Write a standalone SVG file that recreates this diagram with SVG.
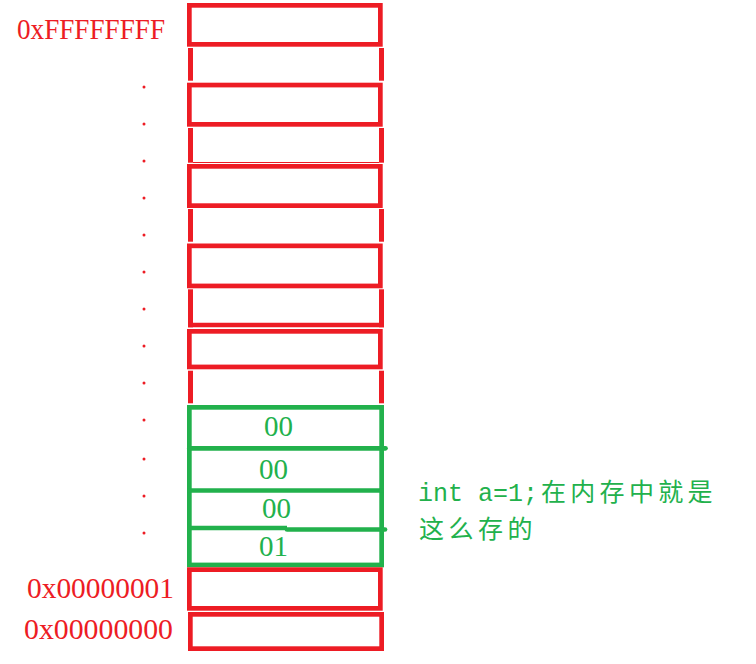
<svg xmlns="http://www.w3.org/2000/svg" width="756" height="664" viewBox="0 0 756 664">
<style>
.r{fill:none;stroke:#ed1c24;stroke-width:4.7}
.ob{stroke:#ed1c24;stroke-width:5}
.g{fill:none;stroke:#22b14c;stroke-width:4.7}
.lbl{font-family:"Liberation Serif","Times New Roman",serif;font-size:29px;fill:#ed1c24}
.val{font-family:"Liberation Serif","Times New Roman",serif;font-size:29px;fill:#22b14c}
.note{fill:#22b14c;font-size:25px}
.dot{fill:#ed1c24}
</style>
<rect width="756" height="664" fill="#ffffff"/>
<g id="labels">
<text class="lbl" x="17" y="39" textLength="148" lengthAdjust="spacingAndGlyphs">0xFFFFFFFF</text>
<text class="lbl" x="27" y="598" textLength="147" lengthAdjust="spacingAndGlyphs">0x00000001</text>
<text class="lbl" x="24" y="639" textLength="149" lengthAdjust="spacingAndGlyphs">0x00000000</text>
</g>
<g id="dots">
<circle class="dot" cx="144" cy="87" r="1.5"/>
<circle class="dot" cx="144" cy="124" r="1.5"/>
<circle class="dot" cx="144" cy="161" r="1.5"/>
<circle class="dot" cx="144" cy="198" r="1.5"/>
<circle class="dot" cx="144" cy="235" r="1.5"/>
<circle class="dot" cx="144" cy="272" r="1.5"/>
<circle class="dot" cx="144" cy="309" r="1.5"/>
<circle class="dot" cx="144" cy="346" r="1.5"/>
<circle class="dot" cx="144" cy="383" r="1.5"/>
<circle class="dot" cx="144" cy="420" r="1.5"/>
<circle class="dot" cx="144" cy="459" r="1.5"/>
<circle class="dot" cx="144" cy="496" r="1.5"/>
<circle class="dot" cx="144" cy="533" r="1.5"/>
</g>
<g id="cell1"><rect class="r" x="189.35" y="5.35" width="191" height="39"/></g>
<g id="cell2"><line class="ob" x1="190.5" y1="48" x2="190.5" y2="80.7"/><line class="ob" x1="381.5" y1="48" x2="381.5" y2="80.7"/></g>
<g id="cell3"><rect class="r" x="189.35" y="85.05" width="191" height="39.3"/></g>
<g id="cell4"><line class="ob" x1="190.5" y1="128" x2="190.5" y2="162.7"/><line class="ob" x1="381.5" y1="128" x2="381.5" y2="162.7"/><line x1="193" y1="162.5" x2="379" y2="162.5" stroke="#ed1c24" stroke-width="1"/></g>
<g id="cell5"><rect class="r" x="189.35" y="166.35" width="191" height="39.3"/></g>
<g id="cell6"><line class="ob" x1="190.5" y1="209" x2="190.5" y2="241.7"/><line class="ob" x1="381.5" y1="209" x2="381.5" y2="241.7"/></g>
<g id="cell7"><rect class="r" x="189.35" y="245.85" width="191" height="40.1"/></g>
<g id="cell8"><line class="ob" x1="190.5" y1="289.3" x2="190.5" y2="327.3"/><line class="ob" x1="381.5" y1="289.3" x2="381.5" y2="327.3"/><line class="ob" x1="188" y1="325" x2="384" y2="325" style="stroke-width:4.7"/></g>
<g id="cell9"><rect class="r" x="189.35" y="331.35" width="191" height="35.6"/></g>
<g id="cell10"><line class="ob" x1="190.5" y1="370.7" x2="190.5" y2="403.3"/><line class="ob" x1="381.5" y1="370.7" x2="381.5" y2="403.3"/></g>
<g id="int-a">
<rect class="g" x="189.35" y="407.35" width="192.3" height="157.6"/>
<line class="g" x1="189.35" y1="448.3" x2="385.5" y2="448.3" stroke-linecap="round"/>
<line class="g" x1="187" y1="490.5" x2="384" y2="490.5"/>
<line class="g" x1="190" y1="528" x2="287" y2="528"/>
<line class="g" x1="287" y1="529.5" x2="385" y2="529.5" stroke-linecap="round"/>
<text class="val" x="264" y="435.7">00</text>
<text class="val" x="259" y="479">00</text>
<text class="val" x="262" y="518">00</text>
<text class="val" x="259" y="555.7">01</text>
</g>
<g id="cellA"><rect class="r" x="189.35" y="569.65" width="191" height="38.7"/></g>
<g id="cellB"><rect class="r" x="190.35" y="614.35" width="191.3" height="34.3"/></g>
<g id="note">
<text class="note" y="501"><tspan x="418" style="font-family:'Liberation Mono','Courier New',monospace">int a=1;</tspan><tspan x="541 570.3 599.6 628.9 658.2 687.5" style="font-family:'Noto Sans CJK SC',sans-serif">在内存中就是</tspan></text>
<text class="note" y="538" style="font-family:'Noto Sans CJK SC',sans-serif"><tspan x="419 448.5 478 507.5">这么存的</tspan></text>
</g>
</svg>
